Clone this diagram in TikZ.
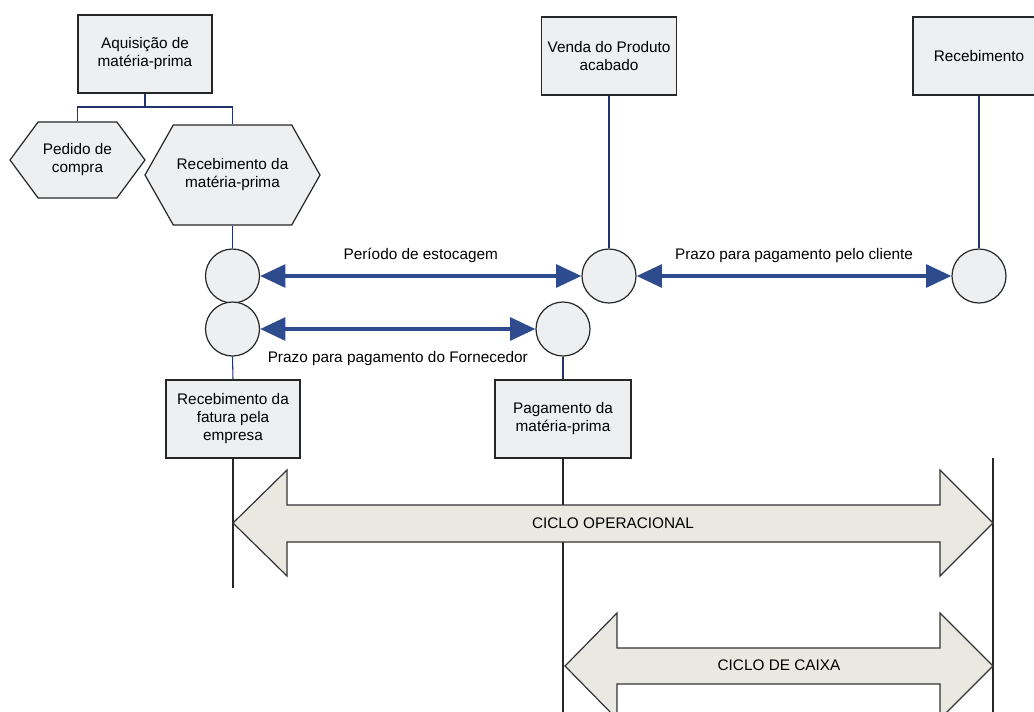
\documentclass[tikz,border=0pt]{standalone}
\usepackage{fontspec}
\setmainfont{Liberation Sans}
\usepackage{tikz}
\usetikzlibrary{arrows.meta}
\usetikzlibrary{shapes.geometric, shapes.symbols, positioning}

\definecolor{boxfill}{HTML}{EDEFF1}
\definecolor{cyclefill}{HTML}{E9E9E2}
\definecolor{flowblue}{HTML}{2E4B8E}
\definecolor{linknavy}{HTML}{23336E}

\begin{document}
\begin{tikzpicture}[x=0.75pt,y=-0.75pt,font=\fontsize{11.5}{13.5}\selectfont]

    % Define styles
    \tikzstyle{event} = [rectangle, draw=black!85, line width=0.9pt, fill=boxfill, align=center, minimum height=58.5pt, minimum width=100.5pt, inner sep=2pt]
    \tikzstyle{task} = [signal, signal to=west and east, draw=black!85, line width=0.9pt, fill=boxfill, align=center, inner sep=1pt]
    \tikzstyle{instant} = [circle, draw=black!85, line width=0.9pt, fill=boxfill, minimum size=40.5pt, inner sep=0pt]
    \tikzstyle{link} = [draw=linknavy, line width=0.8pt]
    \tikzstyle{rule} = [draw=black!85, line width=0.8pt]
    \tikzstyle{period} = [draw=flowblue, line width=3pt, {Triangle[length=19pt,width=17pt]}-{Triangle[length=19pt,width=17pt]}]
    \tikzstyle{cycle} = [draw=black!80, fill=cyclefill, line width=0.9pt]

    \useasboundingbox (0,0) rectangle (1034,711);
    \clip (0,0) rectangle (1034,711);

    % Events
    \node[event] (aquis) at (145,54) {Aquisição de\\matéria-prima};
    \node[event, minimum width=101.25pt] (venda) at (609,56) {Venda do Produto\\acabado};
    \node[event, minimum width=99pt] (receb) at (979,56) {Recebimento};
    \node[event] (fatura) at (233,419) {Recebimento da\\fatura pela\\empresa};
    \node[event, minimum width=102pt] (pagam) at (563,419) {Pagamento da\\matéria-prima};

    % Tasks
    \node[task, minimum width=101.25pt, minimum height=57pt, signal pointer angle=107] (pedido) at (77.5,160) {Pedido de\\compra};
    \node[task, minimum width=131.25pt, minimum height=75pt, signal pointer angle=121] (recebMP) at (232.5,175) {Recebimento da\\matéria-prima};

    % Points in time
    \node[instant] (c1) at (232.5,276) {};
    \node[instant] (c2) at (232.5,329) {};
    \node[instant] (c3) at (609,276) {};
    \node[instant] (c4) at (563,329) {};
    \node[instant] (c5) at (979,276) {};

    \coordinate (bus) at (145,107);
    \coordinate (faturaEnd) at (233,588);
    \coordinate (pagamEnd) at (563,720);
    \coordinate (limitTop) at (993,458);
    \coordinate (limitEnd) at (993,720);

    % Links
    \draw[link] (aquis.south) -- (bus);
    \draw[link] (pedido.north) |- (bus) -| (recebMP.north);
    \draw[link] (recebMP.south) -- (c1.north);
    \draw[link] (venda.south) -- (c3.north);
    \draw[link] (receb.south) -- (c5.north);
    \draw[link] (c2.south) -- (fatura.north);
    \draw[link] (c4.south) -- (pagam.north);
    \draw[rule] (fatura.south) -- (faturaEnd);
    \draw[rule] (pagam.south) -- (pagamEnd);
    \draw[rule] (limitTop) -- (limitEnd);

    % Periods
    \draw[period] (c1) -- node[midway, above=5pt, text=black] {Período de estocagem} (c3);
    \draw[period] (c2) -- node[midway, below=12pt, text=black] {Prazo para pagamento do Fornecedor} (c4);
    \draw[period] (c3) -- node[midway, above=5pt, text=black] {Prazo para pagamento pelo cliente} (c5);

    % Cycles
    \draw[cycle] (233,523) -- (287,470) -- (287,505) -- (940,505) -- (940,470) -- (993,523)
        -- (940,576) -- (940,542) -- (287,542) -- (287,576) -- cycle;
    \node (operacional) at (613,523) {CICLO OPERACIONAL};
    \draw[cycle] (565,666) -- (617,613) -- (617,648) -- (940,648) -- (940,613) -- (993,666)
        -- (940,719) -- (940,684) -- (617,684) -- (617,719) -- cycle;
    \node (caixa) at (779,665) {CICLO DE CAIXA};

\end{tikzpicture}
\end{document}
